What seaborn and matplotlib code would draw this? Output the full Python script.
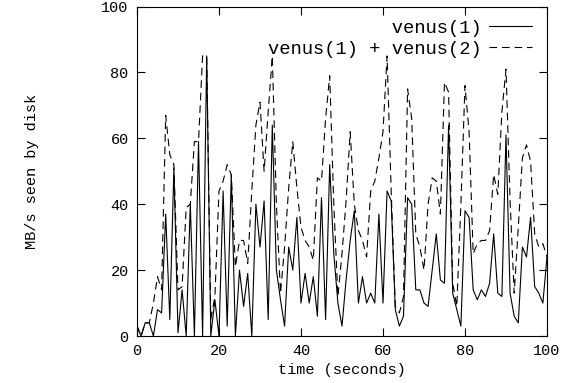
import matplotlib
matplotlib.use("Agg")
import matplotlib.pyplot as plt
import numpy as np
import pandas as pd
import seaborn as sns

# ---- data ----
seconds = list(range(0, 101))
venus1 = [3, 0, 4, 4, 0, 8, 7, 37, 5, 51,
          1, 14, 0, 40, 0, 59, 0, 85, 0, 11,
          0, 44, 3, 49, 0, 20, 9, 19, 0, 40,
          27, 41, 5, 64, 20, 11, 3, 27, 20, 36,
          10, 19, 10, 18, 6, 42, 5, 52, 25, 10,
          3, 17, 29, 38, 10, 18, 10, 13, 10, 37,
          10, 44, 41, 8, 3, 6, 42, 40, 14, 14,
          10, 9, 20, 31, 17, 16, 64, 13, 8, 3,
          38, 36, 14, 11, 14, 12, 16, 31, 13, 12,
          61, 13, 6, 4, 27, 24, 36, 15, 13, 10,
          24]
venus_sum = [3, 0, 4, 4, 10, 18, 14, 67, 55, 52,
             14, 15, 39, 40, 59, 59, 85, 85, 5, 12,
             44, 47, 52, 49, 21, 29, 29, 22, 44, 64,
             71, 50, 68, 85, 40, 13, 27, 45, 59, 45,
             33, 29, 27, 23, 48, 47, 66, 79, 40, 12,
             25, 41, 62, 40, 32, 29, 24, 44, 47, 54,
             62, 85, 44, 9, 7, 12, 75, 66, 31, 27,
             20, 40, 48, 47, 37, 77, 74, 16, 9, 40,
             76, 62, 25, 28, 29, 29, 32, 49, 43, 68,
             81, 41, 13, 33, 54, 58, 53, 31, 27, 28,
             24]
series_labels = ["venus(1)", "venus(1) + venus(2)"]
x_ticks = [0, 20, 40, 60, 80, 100]
y_ticks = [0, 20, 40, 60, 80, 100]

sns.set_theme(style="white")
plt.rcParams["font.family"] = ["Liberation Mono", "DejaVu Sans Mono"]
plt.rcParams.update({
    "text.color": "black",
    "axes.labelcolor": "black",
    "axes.edgecolor": "black",
    "axes.linewidth": 0.8,
    "xtick.color": "black",
    "ytick.color": "black",
    "lines.scale_dashes": False,
})

fig, ax = plt.subplots(figsize=(5.68, 3.83), dpi=100)
fig.subplots_adjust(left=0.2412, right=0.963, bottom=0.1227, top=0.983)

df1 = pd.DataFrame({"time": seconds, "mbs": venus1})
df2 = pd.DataFrame({"time": seconds, "mbs": venus_sum})

width = max(len(s) for s in series_labels)
sns.lineplot(data=df1, x="time", y="mbs", ax=ax, color="black", lw=0.8,
             label=series_labels[0].rjust(width))
sns.lineplot(data=df2, x="time", y="mbs", ax=ax, color="black", lw=0.8,
             linestyle=(0, (5.5, 3.5)), label=series_labels[1].rjust(width))

ax.set_xlim(0, 100)
ax.set_ylim(0, 100)
ax.set_xticks(x_ticks)
ax.set_yticks(y_ticks)
ax.set_xlabel("time (seconds)", fontsize=11, labelpad=3)
ax.set_ylabel("MB/s seen by disk", fontsize=11)
ax.yaxis.set_label_coords(-0.24, 0.5)

for s in ax.spines.values():
    s.set_visible(True)
    s.set_color("black")
    s.set_linewidth(0.8)

ax.tick_params(axis="both", which="major", direction="in", length=6, width=0.8,
               top=True, right=True, bottom=True, left=True, labelsize=11)
ax.tick_params(axis="x", pad=6)
ax.tick_params(axis="y", pad=6)

leg = ax.legend(loc="upper right", bbox_to_anchor=(0.99, 0.995), frameon=False,
                markerfirst=False, handlelength=2.3, handletextpad=0.37,
                labelspacing=0.22, fontsize=13.5, borderaxespad=0.2)

fig.savefig("out.png", dpi=100)
